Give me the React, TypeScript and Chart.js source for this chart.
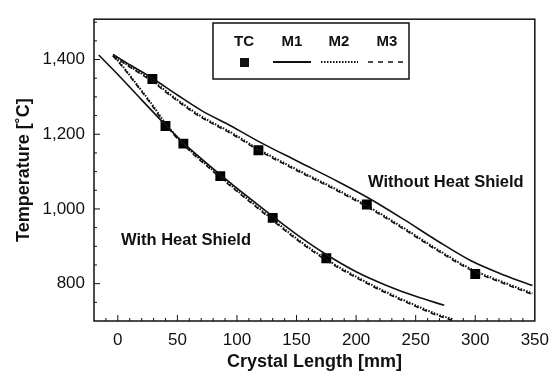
import { useEffect, useRef } from "react";
import { Chart, registerables } from "chart.js";

Chart.register(...registerables);

// ---- Data ----
const seriesNames = ["TC", "M1", "M2", "M3"];
const xTickValues = [0, 50, 100, 150, 200, 250, 300, 350];
const yTickValues = [800, 1000, 1200, 1400];

// Measured thermocouple data (TC)
const tcWithX = [40, 55, 86, 130, 175];
const tcWithY = [1222, 1175, 1088, 976, 868];
const tcWithoutX = [29, 118, 209, 300];
const tcWithoutY = [1348, 1157, 1012, 826];

// Without heat shield (upper curves)
const woM1X = [-4, 10, 28, 50, 70, 95, 118, 150, 185, 210, 240, 268, 296, 325, 348];
const woM1Y = [1414, 1386, 1352, 1305, 1264, 1222, 1181, 1129, 1073, 1030, 972, 915, 862, 822, 795];
const woM2X = [-4, 10, 28, 50, 70, 95, 118, 150, 185, 210, 240, 268, 296, 325, 348];
const woM2Y = [1412, 1382, 1346, 1292, 1248, 1205, 1160, 1106, 1050, 1007, 949, 892, 840, 802, 774];
const woM3X = [-4, 10, 28, 50, 70, 95, 118, 150, 185, 210, 240, 268, 296, 325, 348];
const woM3Y = [1410, 1380, 1343, 1289, 1245, 1202, 1157, 1103, 1047, 1004, 946, 889, 837, 799, 771];

// With heat shield (lower curves)
const wM1X = [-16, 0, 20, 40, 55, 86, 110, 130, 150, 175, 200, 225, 250, 274];
const wM1Y = [1412, 1360, 1292, 1225, 1177, 1092, 1030, 980, 932, 878, 832, 796, 766, 742];
const wM2X = [-4, 2, 15, 28, 40, 55, 86, 110, 130, 150, 175, 200, 225, 250, 268, 281];
const wM2Y = [1410, 1390, 1337, 1283, 1229, 1175, 1087, 1024, 972, 921, 865, 819, 778, 742, 718, 705];
const wM3X = [-4, 2, 15, 28, 40, 55, 86, 110, 130, 150, 175, 200, 225, 250, 268, 280];
const wM3Y = [1409, 1388, 1335, 1280, 1226, 1172, 1084, 1021, 969, 918, 862, 816, 775, 739, 715, 703];

const pts = (xs: number[], ys: number[]) => xs.map((x, i) => ({ x, y: ys[i] }));

const INK = "#111";
const FONT = "'Liberation Sans', Arial, sans-serif";

const decor = {
  id: "decor",
  afterDraw(chart: any) {
    const { ctx, chartArea: a, scales } = chart;
    const xs = scales.x;
    const ys = scales.y;
    ctx.save();
    // frame
    ctx.strokeStyle = INK;
    ctx.lineWidth = 1.5;
    ctx.setLineDash([]);
    ctx.strokeRect(a.left, a.top, a.right - a.left, a.bottom - a.top);
    // inner ticks
    ctx.lineWidth = 1;
    for (let v = -10; v < 350; v += 10) {
      const px = xs.getPixelForValue(v);
      const len = v % 50 === 0 ? 6 : 3;
      ctx.beginPath();
      ctx.moveTo(px, a.bottom);
      ctx.lineTo(px, a.bottom - len);
      ctx.stroke();
    }
    for (let v = 750; v <= 1500; v += 50) {
      const py = ys.getPixelForValue(v);
      const len = v % 200 === 0 ? 6 : 3;
      ctx.beginPath();
      ctx.moveTo(a.left, py);
      ctx.lineTo(a.left + len, py);
      ctx.stroke();
    }
    // axis titles
    ctx.fillStyle = INK;
    ctx.font = `bold 18px ${FONT}`;
    ctx.textAlign = "center";
    ctx.textBaseline = "middle";
    ctx.fillText("Crystal Length [mm]", (a.left + a.right) / 2, 362);
    ctx.save();
    ctx.translate(24, (a.top + a.bottom) / 2);
    ctx.rotate(-Math.PI / 2);
    ctx.fillText("Temperature [\u02DAC]", 0, 0);
    ctx.restore();
    // annotations
    ctx.font = `bold 16.5px ${FONT}`;
    ctx.textAlign = "left";
    ctx.fillText("Without Heat Shield", 368, 182);
    ctx.fillText("With Heat Shield", 121, 240);
    // legend box
    ctx.fillStyle = "#fff";
    ctx.fillRect(213, 23, 196, 56);
    ctx.lineWidth = 1.5;
    ctx.strokeRect(213, 23, 196, 56);
    ctx.fillStyle = INK;
    ctx.font = `bold 15px ${FONT}`;
    ctx.textAlign = "center";
    const cx = [244, 292, 339, 387];
    seriesNames.forEach((n, i) => ctx.fillText(n, cx[i], 42));
    ctx.fillRect(240, 58, 9, 9);
    ctx.lineWidth = 2;
    ctx.beginPath();
    ctx.moveTo(273, 62);
    ctx.lineTo(311, 62);
    ctx.stroke();
    ctx.setLineDash([1.5, 1.5]);
    ctx.beginPath();
    ctx.moveTo(321, 62);
    ctx.lineTo(358, 62);
    ctx.stroke();
    ctx.lineWidth = 1.5;
    ctx.setLineDash([5, 5]);
    ctx.beginPath();
    ctx.moveTo(368, 62);
    ctx.lineTo(408, 62);
    ctx.stroke();
    ctx.restore();
  },
};

const lineDs = (data: any, dash: number[], width: number) => ({
  type: "line" as const,
  data,
  borderColor: INK,
  borderWidth: width,
  borderDash: dash,
  pointRadius: 0,
  fill: false,
  cubicInterpolationMode: "monotone" as const,
});

export default function App() {
  const ref = useRef<HTMLCanvasElement>(null);
  useEffect(() => {
    document.body.style.margin = "0";
    const chart = new Chart(ref.current as HTMLCanvasElement, {
      type: "line",
      data: {
        datasets: [
          lineDs(pts(woM1X, woM1Y), [], 1.6),
          lineDs(pts(woM2X, woM2Y), [1.5, 1.5], 2),
          lineDs(pts(woM3X, woM3Y), [5, 4], 1.5),
          lineDs(pts(wM1X, wM1Y), [], 1.6),
          lineDs(pts(wM2X, wM2Y), [1.5, 1.5], 2),
          lineDs(pts(wM3X, wM3Y), [5, 4], 1.5),
          {
            type: "line",
            data: pts(tcWithoutX, tcWithoutY),
            showLine: false,
            pointStyle: "rect",
            pointRadius: 7,
            pointBackgroundColor: "#000",
            pointBorderWidth: 0,
          },
          {
            type: "line",
            data: pts(tcWithX, tcWithY),
            showLine: false,
            pointStyle: "rect",
            pointRadius: 7,
            pointBackgroundColor: "#000",
            pointBorderWidth: 0,
          },
        ] as any,
      },
      options: {
        responsive: false,
        animation: false,
        devicePixelRatio: 1,
        layout: { padding: { left: 0, right: 20, top: 13, bottom: 0 } },
        plugins: { legend: { display: false }, tooltip: { enabled: false } },
        scales: {
          x: {
            type: "linear",
            min: -20,
            max: 350,
            afterBuildTicks: (s: any) => {
              s.ticks = xTickValues.map((v) => ({ value: v }));
            },
            afterFit: (s: any) => {
              s.height = 53;
            },
            grid: { display: false, drawTicks: false },
            border: { display: false },
            ticks: {
              autoSkip: false,
              maxRotation: 0,
              padding: 9,
              color: INK,
              font: { family: FONT, size: 17 },
              callback: (v: any) => String(v),
            },
          },
          y: {
            type: "linear",
            min: 700,
            max: 1508,
            afterBuildTicks: (s: any) => {
              s.ticks = yTickValues.map((v) => ({ value: v }));
            },
            afterFit: (s: any) => {
              s.width = 94;
            },
            grid: { display: false, drawTicks: false },
            border: { display: false },
            ticks: {
              autoSkip: false,
              padding: 9,
              color: INK,
              font: { family: FONT, size: 17 },
              callback: (v: any) => Number(v).toLocaleString("en-US"),
            },
          },
        },
      },
      plugins: [decor],
    });
    return () => chart.destroy();
  }, []);
  return (
    <div style={{ width: 558, height: 374 }}>
      <canvas ref={ref} width={558} height={374} style={{ display: "block" }} />
    </div>
  );
}
